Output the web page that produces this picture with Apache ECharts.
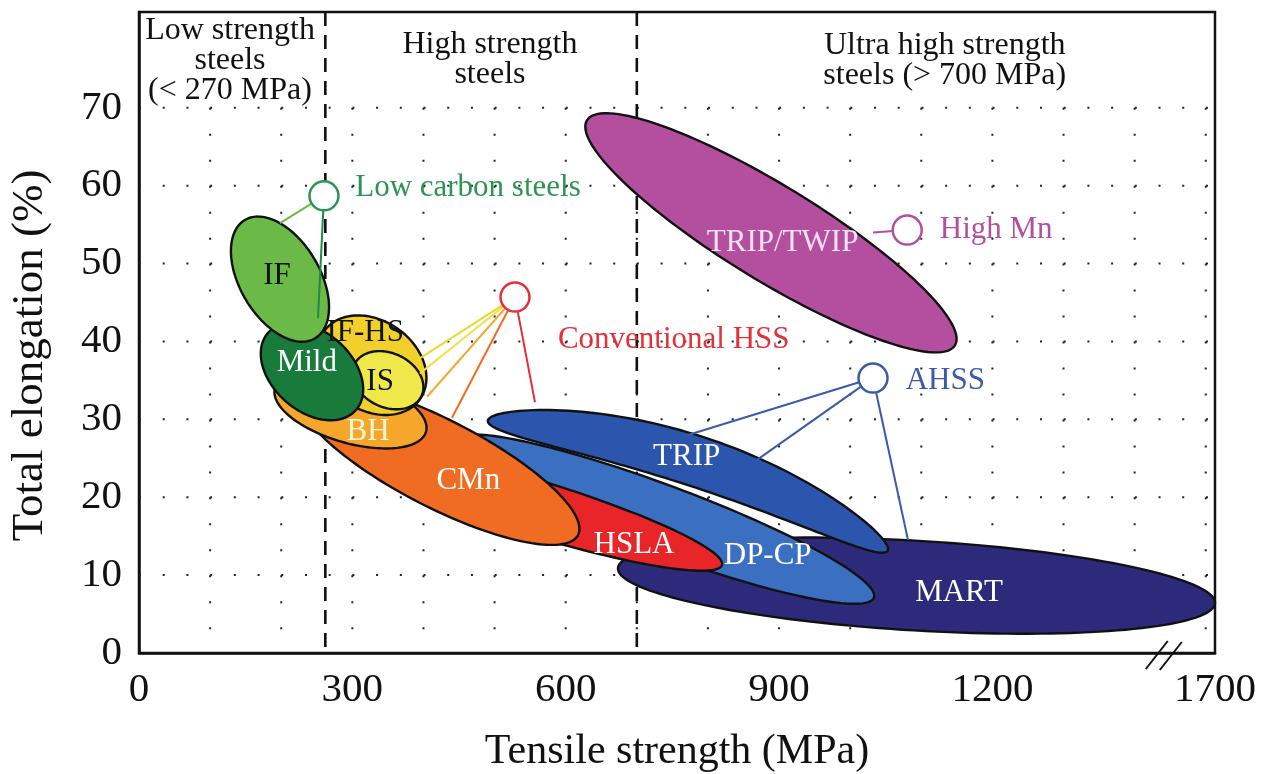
<!DOCTYPE html>
<html><head><meta charset="utf-8">
<script src="https://cdn.jsdelivr.net/npm/echarts@6/dist/echarts.min.js"></script>
<style>html,body{margin:0;padding:0;background:#fff}#c{width:1268px;height:774px}</style>
</head><body><div id="c"></div>
<script>
// ---------- axes ----------
const xMax = 1513;            // right edge of the (broken) strength axis, labelled 1700
const yMax = 82.3;
const xTickValues = [0, 300, 600, 900, 1200, 1513];
const xTickLabels = ['0', '300', '600', '900', '1200', '1700'];
const yTickValues = [0, 10, 20, 30, 40, 50, 60, 70];
const gridXValues = [100, 200, 300, 400, 500, 600, 700, 800, 900, 1000, 1100, 1200, 1300, 1400, 1500];
const gridYValues = [10, 20, 30, 40, 50, 60, 70];
const gridTop = 70;
const boundaries = [262, 700];
const breakAt = 1441;

// ---------- steel families (ellipses; drawn in this order) ----------
const steelNames = ['MART', 'DP-CP', 'TRIP', 'HSLA', 'CMn', 'BH', 'IF-HS', 'IS', 'Mild', 'IF', 'TRIP/TWIP'];
const tipStartX = [673.5, 440.1, 490.7, 289.7, 226.4, 191.2, 260.1, 303.0, 181.4, 149.0, 629.9];
const tipStartY = [10.9, 27.3, 29.9, 26.1, 33.5, 34.0, 41.3, 37.05, 41.1, 55.6, 68.4];
const tipEndX = [1513, 1033.4, 1053.1, 819.7, 617.3, 403.5, 395.1, 397.2, 305.1, 247.5, 1147.3];
const tipEndY = [6.4, 7.1, 13.2, 11.3, 15.15, 28.4, 32.6, 33.0, 31.2, 40.4, 39.5];
const widthRatio = [0.15, 0.15, 0.12, 0.14, 0.28, 0.42, 0.76, 0.73, 0.68, 0.58, 0.22];
const bendRatio = [0, 0, -0.12, 0, 0, 0, 0, 0, 0, 0, 0];
const labelX = [1153, 884, 770, 696, 463, 322, 318, 339, 236, 194, 905];
const labelY = [7.7, 12.5, 25.2, 13.9, 22.1, 28.4, 41.1, 34.8, 37.2, 48.4, 52.6];

// ---------- group annotations ----------
const groupNames = ['Low carbon steels', 'Conventional HSS', 'AHSS', 'High Mn'];
const groupCircleX = [260.1, 528.7, 1032.1, 1080.2];
const groupCircleY = [58.7, 45.7, 35.3, 54.3];
const groupTextX = [304, 589, 1078, 1126];
const groupTextY = [59.7, 40.2, 34.9, 54.3];
// leader lines: group index -> end point
const leaderGroup = [0, 0, 1, 1, 1, 1, 1, 2, 2, 2, 3];
const leaderEndX = [198.3, 251.7, 390.9, 395.1, 405.0, 440.1, 556.8, 771.9, 869.0, 1081.3, 1032.1];
const leaderEndY = [55.2, 43.0, 37.6, 35.9, 32.9, 30.2, 32.2, 28.0, 24.8, 14.5, 54.0];

// ---------- zone headings ----------
const zoneTexts = ['Low strength\nsteels\n(< 270 MPa)', 'High strength\nsteels', 'Ultra high strength\nsteels (> 700 MPa)'];
const zoneX = [128, 493.5, 1133];
const zoneY = [76.0, 76.2, 76.0];

// ---------- styles ----------
const FONT = '"Liberation Serif", "Times New Roman", serif';
const steelFill = ['#2d2a7b', '#3b6fc2', '#2c55ad', '#e8262a', '#ef6c22', '#f4a72a', '#f2d02c', '#efe84a', '#197b3b', '#6bb946', '#b44f9f'];
const steelText = ['#ffffff', '#ffffff', '#ffffff', '#ffffff', '#ffffff', '#fff6d8', '#111111', '#111111', '#ffffff', '#111111', '#f7e2f2'];
const groupColor = ['#2e9455', '#e5303a', '#3c5aa8', '#b0509f'];
const leaderColor = ['#6bb946', '#1f8a45', '#e6d835', '#f0e04a', '#f4a72a', '#ef6c22', '#e5303a', '#3c5aa8', '#3c5aa8', '#3c5aa8', '#b0509f'];

function ellipsePoints(A, B, ratio, bend) {
  const cx = (A[0] + B[0]) / 2, cy = (A[1] + B[1]) / 2;
  const dx = B[0] - A[0], dy = B[1] - A[1];
  const a = Math.hypot(dx, dy) / 2;
  const ux = dx / (2 * a), uy = dy / (2 * a);
  const vx = -uy, vy = ux;
  const b = a * ratio;
  const pts = [];
  const n = 160;
  for (let i = 0; i < n; i++) {
    const t = i / n * 2 * Math.PI;
    const s = Math.cos(t);
    const w = b * Math.sin(t) + bend * a * (1 - s * s);
    pts.push([cx + ux * a * s + vx * w, cy + uy * a * s + vy * w]);
  }
  return pts;
}

const chart = echarts.init(document.getElementById('c'), null, { renderer: 'canvas' });

const option = {
  animation: false,
  backgroundColor: '#ffffff',
  grid: { left: 139, right: 53, top: 12, bottom: 121, outerBoundsMode: 'none', containLabel: false,
    show: true, borderColor: '#111', borderWidth: 2.5, backgroundColor: 'transparent' },
  xAxis: {
    type: 'value', min: 0, max: xMax,
    axisLine: { show: true, lineStyle: { color: '#111', width: 2.5 } },
    axisTick: { show: false },
    splitLine: { show: false },
    axisLabel: {
      customValues: xTickValues,
      formatter: function (v) { const i = xTickValues.indexOf(v); return i >= 0 ? xTickLabels[i] : ''; },
      fontFamily: FONT, fontSize: 41, color: '#111', margin: 17
    },
    name: 'Tensile strength (MPa)', nameLocation: 'middle', nameGap: 78,
    nameTextStyle: { fontFamily: FONT, fontSize: 42, color: '#111' }
  },
  yAxis: {
    type: 'value', min: 0, max: yMax,
    axisLine: { show: true, lineStyle: { color: '#111', width: 2.5 } },
    axisTick: { show: false },
    splitLine: { show: false },
    axisLabel: {
      customValues: yTickValues,
      fontFamily: FONT, fontSize: 41, color: '#111', margin: 17
    },
    name: 'Total elongation (%)', nameLocation: 'middle', nameGap: 86,
    nameTextStyle: { fontFamily: FONT, fontSize: 45, color: '#111', padding: [0, 46, 0, 0] }
  },
  series: [
    { // dotted grid
      type: 'custom', z: 1, silent: true,
      data: [[0, 0]],
      renderItem: function (params, api) {
        const children = [];
        gridXValues.forEach(function (x) {
          const p1 = api.coord([x, gridTop]), p2 = api.coord([x, 0]);
          children.push({ type: 'line', shape: { x1: p1[0], y1: p1[1], x2: p2[0], y2: p2[1] },
            style: { stroke: '#222', lineWidth: 2, lineDash: [2, 23.97] } });
        });
        gridYValues.forEach(function (y) {
          const p1 = api.coord([0, y]), p2 = api.coord([xMax, y]);
          children.push({ type: 'line', shape: { x1: p1[0], y1: p1[1], x2: p2[0], y2: p2[1] },
            style: { stroke: '#222', lineWidth: 2, lineDash: [2, 21.71] } });
        });
        return { type: 'group', children: children };
      }
    },
    { // zone boundaries
      type: 'custom', z: 2, silent: true,
      data: boundaries.map(function (b) { return [b, 0]; }),
      renderItem: function (params, api) {
        const p1 = api.coord([api.value(0), yMax]), p2 = api.coord([api.value(0), 0]);
        return { type: 'line', shape: { x1: p1[0], y1: p1[1], x2: p2[0], y2: p2[1] },
          style: { stroke: '#111', lineWidth: 2.6, lineDash: [14, 9] } };
      }
    },
    { // zone headings
      type: 'custom', z: 3, silent: true,
      data: zoneTexts.map(function (t, i) { return [zoneX[i], zoneY[i]]; }),
      renderItem: function (params, api) {
        const p = api.coord([api.value(0), api.value(1)]);
        return { type: 'text', x: p[0], y: p[1],
          style: { text: zoneTexts[params.dataIndex], fill: '#111', font: '32px ' + FONT, lineHeight: 30, align: 'center', verticalAlign: 'middle' } };
      }
    },
    { // steel ellipses
      type: 'custom', z: 4, silent: true,
      data: steelNames.map(function (n, i) { return [tipStartX[i], tipStartY[i], tipEndX[i], tipEndY[i]]; }),
      renderItem: function (params, api) {
        const i = params.dataIndex;
        const A = api.coord([api.value(0), api.value(1)]);
        const B = api.coord([api.value(2), api.value(3)]);
        return { type: 'polygon', z2: i,
          shape: { points: ellipsePoints(A, B, widthRatio[i], bendRatio[i]) },
          style: { fill: steelFill[i], stroke: '#111', lineWidth: 2.4 } };
      }
    },
    { // leader lines
      type: 'custom', z: 5, silent: true,
      data: leaderGroup.map(function (g, i) { return [groupCircleX[g], groupCircleY[g], leaderEndX[i], leaderEndY[i]]; }),
      renderItem: function (params, api) {
        const p1 = api.coord([api.value(0), api.value(1)]), p2 = api.coord([api.value(2), api.value(3)]);
        return { type: 'line', shape: { x1: p1[0], y1: p1[1], x2: p2[0], y2: p2[1] },
          style: { stroke: leaderColor[params.dataIndex], lineWidth: 2 } };
      }
    },
    { // group circles and names
      type: 'custom', z: 6, silent: true,
      data: groupNames.map(function (n, i) { return [groupCircleX[i], groupCircleY[i], groupTextX[i], groupTextY[i]]; }),
      renderItem: function (params, api) {
        const i = params.dataIndex;
        const c = api.coord([api.value(0), api.value(1)]);
        const t = api.coord([api.value(2), api.value(3)]);
        return { type: 'group', children: [
          { type: 'circle', shape: { cx: c[0], cy: c[1], r: 14.5 }, style: { fill: '#fff', stroke: groupColor[i], lineWidth: 2.5 } },
          { type: 'text', x: t[0], y: t[1], style: { text: groupNames[i], fill: groupColor[i], font: '31px ' + FONT, align: 'left', verticalAlign: 'middle' } }
        ] };
      }
    },
    { // steel labels
      type: 'custom', z: 7, silent: true,
      data: steelNames.map(function (n, i) { return [labelX[i], labelY[i]]; }),
      renderItem: function (params, api) {
        const i = params.dataIndex;
        const p = api.coord([api.value(0), api.value(1)]);
        return { type: 'text', x: p[0], y: p[1],
          style: { text: steelNames[i], fill: steelText[i], font: '31px ' + FONT, align: 'center', verticalAlign: 'middle' } };
      }
    },
    { // axis break mark
      type: 'custom', z: 8, silent: true,
      data: [[breakAt, 0]],
      renderItem: function (params, api) {
        const p = api.coord([api.value(0), api.value(1)]);
        return { type: 'group', children: [
          { type: 'line', shape: { x1: p[0] - 18, y1: p[1] + 16, x2: p[0] + 4, y2: p[1] - 12 }, style: { stroke: '#111', lineWidth: 2 } },
          { type: 'line', shape: { x1: p[0] - 4, y1: p[1] + 17, x2: p[0] + 18, y2: p[1] - 11 }, style: { stroke: '#111', lineWidth: 2 } }
        ] };
      }
    }
  ]
};
chart.setOption(option);
</script>
</body></html>
